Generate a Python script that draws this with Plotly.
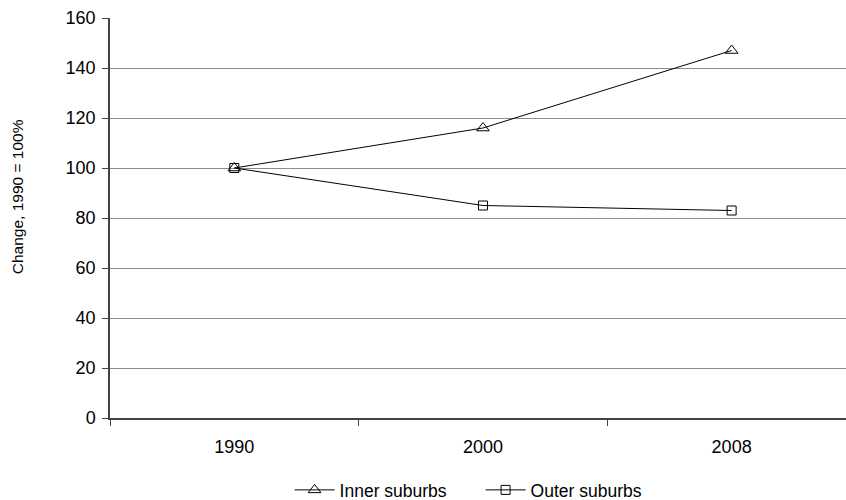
import plotly.graph_objects as go

years = ["1990", "2000", "2008"]
inner = [100, 116, 147]
outer = [100, 85, 83]
y_ticks = [0, 20, 40, 60, 80, 100, 120, 140, 160]
y_title = "Change, 1990 = 100%"

font_family = "Liberation Sans, Arial, sans-serif"

fig = go.Figure()
fig.add_trace(go.Scatter(
    x=years, y=inner, name="Inner suburbs", mode="lines+markers",
    line=dict(color="black", width=1),
    marker=dict(symbol="triangle-up-open", size=11, color="black", line=dict(width=1)),
))
fig.add_trace(go.Scatter(
    x=years, y=outer, name="Outer suburbs", mode="lines+markers",
    line=dict(color="black", width=1),
    marker=dict(symbol="square-open", size=9, color="black", line=dict(width=1)),
))

fig.add_annotation(
    text=y_title, textangle=-90, showarrow=False,
    xref="paper", yref="paper", x=-0.126, xanchor="center",
    y=0.5525, yanchor="middle",
    font=dict(size=15.5, family=font_family, color="black"),
)

fig.update_layout(
    width=846, height=500,
    margin=dict(l=110, r=0, t=18, b=82, autoexpand=False),
    plot_bgcolor="white", paper_bgcolor="white",
    font=dict(family=font_family, size=18, color="black"),
    showlegend=True,
    legend=dict(orientation="h", x=0.244, xanchor="left", y=-0.18, yanchor="middle",
                font=dict(size=17.5), itemwidth=40, entrywidth=136, tracegroupgap=0),
    xaxis=dict(
        type="category", range=[-0.5, 2.46],
        showline=True, linecolor="#444", linewidth=1.5,
        ticks="outside", tickson="boundaries", ticklen=6, tickcolor="#444",
        showgrid=False, zeroline=False,
        tickfont=dict(size=18), ticklabelstandoff=12,
    ),
    yaxis=dict(
        range=[0, 160], tickvals=y_ticks,
        showline=True, linecolor="#444", linewidth=1.5,
        ticks="outside", ticklen=6, tickcolor="#444",
        showgrid=True, gridcolor="#8c8c8c", gridwidth=1,
        zeroline=False,
        tickfont=dict(size=18), ticklabelstandoff=3,
    ),
)

fig.write_html("out.html")
